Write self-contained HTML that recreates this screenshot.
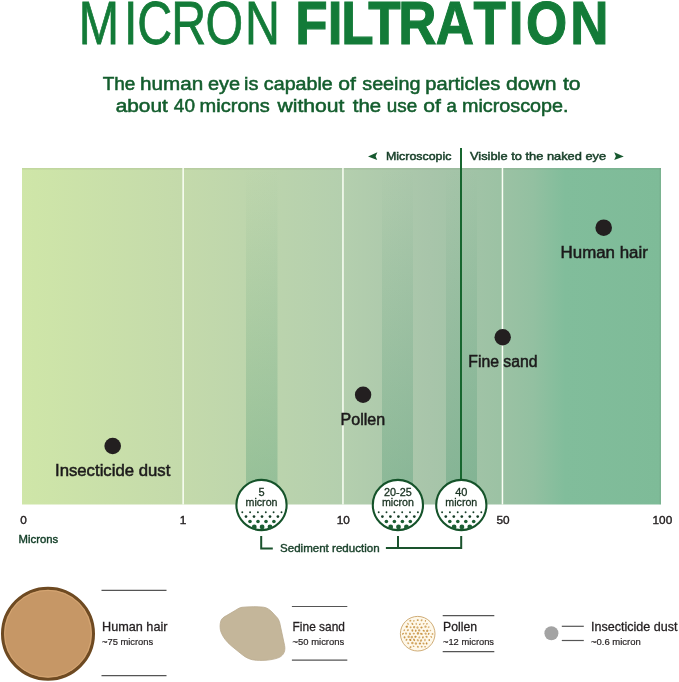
<!DOCTYPE html>
<html><head><meta charset="utf-8">
<style>
html,body{margin:0;padding:0;background:#fff;}
body{width:679px;height:682px;overflow:hidden;position:relative;}
svg{position:absolute;left:0;top:0;display:block;will-change:transform;}
text{font-family:"Liberation Sans",Arial,sans-serif;}
</style></head>
<body>
<svg width="679" height="682" viewBox="0 0 679 682">
<defs>
<linearGradient id="bg" x1="22" y1="0" x2="661" y2="0" gradientUnits="userSpaceOnUse">
<stop offset="0" stop-color="#cfe6a8"/>
<stop offset="0.2504" stop-color="#c4daab"/>
<stop offset="0.5008" stop-color="#b4cfae"/>
<stop offset="0.6385" stop-color="#a8c5aa"/>
<stop offset="0.7480" stop-color="#9cc2a4"/>
<stop offset="0.80" stop-color="#93c0a1"/>
<stop offset="0.85" stop-color="#81bd9b"/>
<stop offset="1" stop-color="#7ebb98"/>
</linearGradient>
<linearGradient id="band" x1="0" y1="168" x2="0" y2="505" gradientUnits="userSpaceOnUse">
<stop offset="0" stop-color="#3d9069" stop-opacity="0"/>
<stop offset="0.12" stop-color="#3d9069" stop-opacity="0.03"/>
<stop offset="1" stop-color="#3d9069" stop-opacity="0.32"/>
</linearGradient>

</defs>

<!-- Title -->
<text transform="scale(0.78,1)" x="100.97 158.82 176.07 219.65 263.59 314.20" y="44.2" font-size="62" font-weight="normal" fill="#137b38" stroke="#137b38" stroke-width="0.8">MICRON</text>
<text transform="scale(0.86,1)" x="343.45 381.04 396.82 428.32 463.19 506.76 550.53 591.68 611.71 663.06" y="43.9" font-size="61.6" font-weight="bold" fill="#137b38" stroke="#137b38" stroke-width="1.1">FILTRATION</text>

<!-- Subtitle -->
<g font-size="18.9" fill="#135d2d" stroke="#135d2d" stroke-width="0.55">
<text y="89.6" ><tspan x="102.67" textLength="32.67" lengthAdjust="spacingAndGlyphs">The</tspan> <tspan x="140.07" textLength="63.17" lengthAdjust="spacingAndGlyphs">human</tspan> <tspan x="207.95" textLength="32.13" lengthAdjust="spacingAndGlyphs">eye</tspan> <tspan x="244.07" textLength="14.35" lengthAdjust="spacingAndGlyphs">is</tspan> <tspan x="263.86" textLength="68.91" lengthAdjust="spacingAndGlyphs">capable</tspan> <tspan x="338.31" textLength="17.65" lengthAdjust="spacingAndGlyphs">of</tspan> <tspan x="362.25" textLength="58.22" lengthAdjust="spacingAndGlyphs">seeing</tspan> <tspan x="425.30" textLength="74.92" lengthAdjust="spacingAndGlyphs">particles</tspan> <tspan x="506.04" textLength="50.60" lengthAdjust="spacingAndGlyphs">down</tspan> <tspan x="563.01" textLength="17.65" lengthAdjust="spacingAndGlyphs">to</tspan></text>
<text y="112.2" ><tspan x="115.71" textLength="52.14" lengthAdjust="spacingAndGlyphs">about</tspan> <tspan x="173.87" textLength="21.07" lengthAdjust="spacingAndGlyphs">40</tspan> <tspan x="199.57" textLength="70.16" lengthAdjust="spacingAndGlyphs">microns</tspan> <tspan x="277.41" textLength="67.07" lengthAdjust="spacingAndGlyphs">without</tspan> <tspan x="352.89" textLength="28.31" lengthAdjust="spacingAndGlyphs">the</tspan> <tspan x="386.78" textLength="30.36" lengthAdjust="spacingAndGlyphs">use</tspan> <tspan x="423.16" textLength="17.65" lengthAdjust="spacingAndGlyphs">of</tspan> <tspan x="446.61" textLength="10.29" lengthAdjust="spacingAndGlyphs">a</tspan> <tspan x="461.99" textLength="106.62" lengthAdjust="spacingAndGlyphs">microscope.</tspan></text>
</g>

<!-- Chart -->
<rect x="22" y="168" width="639" height="336.5" fill="url(#bg)"/>
<rect x="22" y="168" width="639" height="1.6" fill="#5a6a50" fill-opacity="0.1"/>
<rect x="659.5" y="168" width="1.5" height="336.5" fill="#5a6a50" fill-opacity="0.1"/>
<rect x="246" y="168" width="31.5" height="336.5" fill="url(#band)"/>
<rect x="382" y="168" width="31" height="336.5" fill="url(#band)"/>
<rect x="446" y="168" width="31" height="336.5" fill="url(#band)"/>
<rect x="182.4" y="168" width="1.5" height="336.5" fill="#fbfff6"/>
<rect x="342.2" y="168" width="1.5" height="336.5" fill="#fbfff6"/>
<rect x="501.7" y="168" width="1.5" height="336.5" fill="#fbfff6"/>

<!-- microscopic line -->
<rect x="460" y="148" width="2" height="332" fill="#17662f"/>
<path d="M368 156.4 L377.4 152.3 L375.6 156.3 L377.2 160 Z" fill="#17592f"/>
<g font-size="11.8" fill="#173f28" stroke="#173f28" stroke-width="0.5">
<text x="386" y="160.2" textLength="65.4" lengthAdjust="spacingAndGlyphs">Microscopic</text>
<text x="470" y="160.2" textLength="136.2" lengthAdjust="spacingAndGlyphs">Visible to the naked eye</text>
</g>
<path d="M623.8 156.4 L614.2 152.2 L615.9 156.3 L614.2 160 Z" fill="#17592f"/>

<!-- data points -->
<g fill="#231f20">
<circle cx="112.7" cy="446" r="8.3"/>
<circle cx="363.1" cy="394.7" r="8.2"/>
<circle cx="502.7" cy="337.2" r="8.2"/>
<circle cx="603.7" cy="227.7" r="8.3"/>
</g>
<g font-size="15.8" fill="#1c1a1b" stroke="#1c1a1b" stroke-width="0.5">
<text x="55" y="476" textLength="115.3" lengthAdjust="spacingAndGlyphs">Insecticide dust</text>
<text x="340.6" y="424.9" textLength="44.6" lengthAdjust="spacingAndGlyphs">Pollen</text>
<text x="468.3" y="367.1" textLength="69.2" lengthAdjust="spacingAndGlyphs">Fine sand</text>
<text x="560.6" y="257.6" textLength="87.2" lengthAdjust="spacingAndGlyphs">Human hair</text>
</g>

<!-- axis labels -->
<g font-size="11.8" fill="#231f20" text-anchor="middle" stroke="#231f20" stroke-width="0.4">
<text x="23.6" y="523.8">0</text>
<text x="183" y="523.8">1</text>
<text x="343.2" y="523.8">10</text>
<text x="503" y="523.8">50</text>
<text x="662.4" y="523.8">100</text>
</g>
<text x="18.6" y="542.8" font-size="11.3" fill="#15402a" stroke="#15402a" stroke-width="0.4" textLength="39.6" lengthAdjust="spacingAndGlyphs">Microns</text>

<!-- micron circles -->
<g font-size="11" text-anchor="middle" fill="#17301f" stroke="#17301f" stroke-width="0.3">
<g transform="translate(261.5,505)">
<circle r="25.1" fill="#fff" stroke="#15532a" stroke-width="2.1"/>
<g stroke="none">
<g fill="#173f28">
<circle cx="-19.2" cy="7.2" r="0.95"/><circle cx="-11.4" cy="7.2" r="0.95"/><circle cx="-3.6" cy="7.2" r="0.95"/><circle cx="4.3" cy="7.2" r="0.95"/><circle cx="12.1" cy="7.2" r="0.95"/><circle cx="20" cy="7.2" r="0.95"/>
<circle cx="-15.5" cy="11.6" r="1.35"/><circle cx="-7.5" cy="11.6" r="1.35"/><circle cx="0.5" cy="11.6" r="1.35"/><circle cx="8.5" cy="11.6" r="1.35"/><circle cx="16.4" cy="11.6" r="1.35"/>
</g>
<g fill="#1b5e33">
<circle cx="-11.5" cy="16.5" r="1.8"/><circle cx="-3.5" cy="16.5" r="1.8"/><circle cx="4.5" cy="16.5" r="1.8"/><circle cx="12.4" cy="16.5" r="1.8"/>
<circle cx="-7.2" cy="22" r="2.4"/><circle cx="0.6" cy="22" r="2.4"/><circle cx="8.5" cy="22" r="2.4"/>
</g>
</g>
<text y="-9.5">5</text>
<text y="1" textLength="32" lengthAdjust="spacingAndGlyphs">micron</text>
</g>
<g transform="translate(397.9,505)">
<circle r="25.1" fill="#fff" stroke="#15532a" stroke-width="2.1"/>
<g stroke="none">
<g fill="#173f28">
<circle cx="-19.2" cy="7.2" r="0.95"/><circle cx="-11.4" cy="7.2" r="0.95"/><circle cx="-3.6" cy="7.2" r="0.95"/><circle cx="4.3" cy="7.2" r="0.95"/><circle cx="12.1" cy="7.2" r="0.95"/><circle cx="20" cy="7.2" r="0.95"/>
<circle cx="-15.5" cy="11.6" r="1.35"/><circle cx="-7.5" cy="11.6" r="1.35"/><circle cx="0.5" cy="11.6" r="1.35"/><circle cx="8.5" cy="11.6" r="1.35"/><circle cx="16.4" cy="11.6" r="1.35"/>
</g>
<g fill="#1b5e33">
<circle cx="-11.5" cy="16.5" r="1.8"/><circle cx="-3.5" cy="16.5" r="1.8"/><circle cx="4.5" cy="16.5" r="1.8"/><circle cx="12.4" cy="16.5" r="1.8"/>
<circle cx="-7.2" cy="22" r="2.4"/><circle cx="0.6" cy="22" r="2.4"/><circle cx="8.5" cy="22" r="2.4"/>
</g>
</g>
<text y="-9.5" textLength="27.7" lengthAdjust="spacingAndGlyphs">20-25</text>
<text y="1" textLength="32" lengthAdjust="spacingAndGlyphs">micron</text>
</g>
<g transform="translate(461.3,505)">
<circle r="25.1" fill="#fff" stroke="#15532a" stroke-width="2.1"/>
<g stroke="none">
<g fill="#173f28">
<circle cx="-19.2" cy="7.2" r="0.95"/><circle cx="-11.4" cy="7.2" r="0.95"/><circle cx="-3.6" cy="7.2" r="0.95"/><circle cx="4.3" cy="7.2" r="0.95"/><circle cx="12.1" cy="7.2" r="0.95"/><circle cx="20" cy="7.2" r="0.95"/>
<circle cx="-15.5" cy="11.6" r="1.35"/><circle cx="-7.5" cy="11.6" r="1.35"/><circle cx="0.5" cy="11.6" r="1.35"/><circle cx="8.5" cy="11.6" r="1.35"/><circle cx="16.4" cy="11.6" r="1.35"/>
</g>
<g fill="#1b5e33">
<circle cx="-11.5" cy="16.5" r="1.8"/><circle cx="-3.5" cy="16.5" r="1.8"/><circle cx="4.5" cy="16.5" r="1.8"/><circle cx="12.4" cy="16.5" r="1.8"/>
<circle cx="-7.2" cy="22" r="2.4"/><circle cx="0.6" cy="22" r="2.4"/><circle cx="8.5" cy="22" r="2.4"/>
</g>
</g>
<text y="-9.5">40</text>
<text y="1" textLength="32" lengthAdjust="spacingAndGlyphs">micron</text>
</g>
</g>

<!-- sediment bracket -->
<g stroke="#1a532d" stroke-width="2" fill="none">
<path d="M261.2 536 V548.4 H272.8"/>
<path d="M385.9 547.9 H461.2 V536"/>
<path d="M398 536 V547.9"/>
</g>
<text x="280" y="551.7" font-size="11" fill="#173f28" stroke="#173f28" stroke-width="0.4" textLength="99.6" lengthAdjust="spacingAndGlyphs">Sediment reduction</text>

<!-- Legend -->
<circle cx="48" cy="633.7" r="45.5" fill="#c69766" stroke="#6e4a22" stroke-width="3"/>
<circle cx="48" cy="633.7" r="43.3" fill="none" stroke="#d6a673" stroke-width="1"/>
<g stroke="#555" stroke-width="1.2">
<path d="M101.5 590.4 H166.5"/><path d="M101.5 675.7 H166.5"/>
<path d="M291.9 606.5 H347.3"/><path d="M291.9 660.2 H347.3"/>
<path d="M442.7 615.6 H494.3"/><path d="M442.7 651.6 H494.3"/>
<path d="M561.8 626.3 H583.8"/><path d="M561.8 640.5 H583.8"/>
</g>
<g fill="#231f20" stroke="#231f20">
<g font-size="13" stroke-width="0.3">
<text x="102" y="631.2" textLength="65.5" lengthAdjust="spacingAndGlyphs">Human hair</text>
<text x="292.6" y="631.2" textLength="52.3" lengthAdjust="spacingAndGlyphs">Fine sand</text>
<text x="443" y="630.6" textLength="34" lengthAdjust="spacingAndGlyphs">Pollen</text>
<text x="591" y="630.9" textLength="86.5" lengthAdjust="spacingAndGlyphs">Insecticide dust</text>
</g>
<g font-size="9.9" stroke-width="0.2">
<text x="102" y="644.5" textLength="51.2" lengthAdjust="spacingAndGlyphs">~75 microns</text>
<text x="292.6" y="644.9" textLength="51.6" lengthAdjust="spacingAndGlyphs">~50 microns</text>
<text x="443" y="645" textLength="51" lengthAdjust="spacingAndGlyphs">~12 microns</text>
<text x="591" y="645.2" textLength="49.8" lengthAdjust="spacingAndGlyphs">~0.6 micron</text>
</g>
</g>
<path d="M242 607.3 C250 606.5 258 606.5 263.5 607.2 C267 607.7 269.5 609.5 272 612 L277.5 618 C279 620 279.8 622.5 280.2 625 L284.6 645.5 C285.6 650.5 284 655 279.5 657.3 C274 659.8 265 660.8 256.5 660.3 C250.5 660 246 657.8 242 654.5 L231.5 646 C226.5 641.8 222.8 637 221 632 C219.8 628.5 219.7 624 221 620.5 C222 618.3 224 616.8 226.5 615.6 L236 610 C238 608.6 240 607.6 242 607.3 Z" fill="#c4b69a" stroke="#b9aa8e" stroke-width="0.8"/>
<circle cx="417.7" cy="633.7" r="17.3" fill="#fef8ea" stroke="#caa368" stroke-width="0.9"/>
<g fill="#c48c38">
<ellipse transform="translate(410.34,620.75) rotate(169)" rx="1.03" ry="0.87" fill-opacity="0.80"/>
<ellipse transform="translate(413.88,620.87) rotate(176)" rx="0.97" ry="0.70" fill-opacity="0.81"/>
<ellipse transform="translate(417.75,620.16) rotate(4)" rx="1.02" ry="0.85" fill-opacity="0.85"/>
<ellipse transform="translate(421.58,620.21) rotate(122)" rx="1.08" ry="0.85" fill-opacity="0.74"/>
<ellipse transform="translate(425.41,620.89) rotate(122)" rx="0.84" ry="0.52" fill-opacity="0.99"/>
<ellipse transform="translate(408.01,623.85) rotate(58)" rx="1.11" ry="0.71" fill-opacity="0.73"/>
<ellipse transform="translate(412.41,623.85) rotate(61)" rx="1.25" ry="0.83" fill-opacity="0.86"/>
<ellipse transform="translate(416.21,623.86) rotate(95)" rx="1.06" ry="0.69" fill-opacity="0.68"/>
<ellipse transform="translate(419.88,624.25) rotate(145)" rx="1.05" ry="0.75" fill-opacity="0.86"/>
<ellipse transform="translate(423.63,623.76) rotate(143)" rx="0.98" ry="0.71" fill-opacity="0.71"/>
<ellipse transform="translate(426.92,623.83) rotate(166)" rx="1.03" ry="0.78" fill-opacity="0.66"/>
<ellipse transform="translate(406.76,626.72) rotate(166)" rx="1.21" ry="1.07" fill-opacity="0.96"/>
<ellipse transform="translate(410.60,627.25) rotate(31)" rx="0.99" ry="0.89" fill-opacity="0.72"/>
<ellipse transform="translate(414.11,627.20) rotate(110)" rx="1.18" ry="1.15" fill-opacity="0.74"/>
<ellipse transform="translate(417.45,627.54) rotate(63)" rx="1.22" ry="1.11" fill-opacity="0.68"/>
<ellipse transform="translate(421.48,627.49) rotate(166)" rx="1.10" ry="1.01" fill-opacity="0.92"/>
<ellipse transform="translate(425.52,626.68) rotate(9)" rx="1.19" ry="1.12" fill-opacity="0.71"/>
<ellipse transform="translate(428.72,627.20) rotate(140)" rx="1.05" ry="0.83" fill-opacity="0.60"/>
<ellipse transform="translate(404.27,630.27) rotate(129)" rx="0.91" ry="0.75" fill-opacity="0.75"/>
<ellipse transform="translate(407.90,630.12) rotate(141)" rx="1.10" ry="0.93" fill-opacity="0.75"/>
<ellipse transform="translate(412.38,630.56) rotate(89)" rx="1.21" ry="0.90" fill-opacity="0.88"/>
<ellipse transform="translate(415.75,630.63) rotate(96)" rx="1.25" ry="0.87" fill-opacity="0.88"/>
<ellipse transform="translate(419.15,630.36) rotate(169)" rx="1.23" ry="1.17" fill-opacity="0.75"/>
<ellipse transform="translate(423.72,630.73) rotate(22)" rx="1.14" ry="0.89" fill-opacity="0.93"/>
<ellipse transform="translate(427.24,630.82) rotate(132)" rx="1.26" ry="1.09" fill-opacity="0.83"/>
<ellipse transform="translate(430.43,630.53) rotate(139)" rx="0.89" ry="0.59" fill-opacity="0.62"/>
<ellipse transform="translate(402.97,633.71) rotate(135)" rx="1.09" ry="0.70" fill-opacity="0.97"/>
<ellipse transform="translate(406.01,633.52) rotate(44)" rx="1.13" ry="1.06" fill-opacity="0.67"/>
<ellipse transform="translate(409.95,633.82) rotate(66)" rx="1.29" ry="0.98" fill-opacity="0.76"/>
<ellipse transform="translate(413.80,633.62) rotate(175)" rx="1.11" ry="0.89" fill-opacity="0.77"/>
<ellipse transform="translate(417.95,633.36) rotate(121)" rx="1.34" ry="1.21" fill-opacity="0.81"/>
<ellipse transform="translate(421.43,633.84) rotate(17)" rx="1.40" ry="0.92" fill-opacity="0.90"/>
<ellipse transform="translate(425.62,633.72) rotate(33)" rx="1.18" ry="1.05" fill-opacity="0.71"/>
<ellipse transform="translate(428.65,633.79) rotate(124)" rx="1.07" ry="0.74" fill-opacity="0.98"/>
<ellipse transform="translate(432.50,633.91) rotate(105)" rx="0.98" ry="0.92" fill-opacity="0.71"/>
<ellipse transform="translate(404.54,637.30) rotate(87)" rx="1.16" ry="0.96" fill-opacity="0.89"/>
<ellipse transform="translate(408.68,636.86) rotate(84)" rx="1.25" ry="1.23" fill-opacity="0.69"/>
<ellipse transform="translate(411.81,637.18) rotate(154)" rx="1.28" ry="1.26" fill-opacity="0.70"/>
<ellipse transform="translate(415.51,636.72) rotate(155)" rx="1.15" ry="1.01" fill-opacity="0.96"/>
<ellipse transform="translate(419.33,637.33) rotate(131)" rx="1.19" ry="0.92" fill-opacity="0.63"/>
<ellipse transform="translate(422.92,637.30) rotate(104)" rx="1.15" ry="0.86" fill-opacity="0.87"/>
<ellipse transform="translate(426.58,636.80) rotate(38)" rx="1.15" ry="0.91" fill-opacity="0.83"/>
<ellipse transform="translate(431.28,636.85) rotate(49)" rx="1.06" ry="0.68" fill-opacity="0.87"/>
<ellipse transform="translate(406.49,639.84) rotate(129)" rx="1.08" ry="0.80" fill-opacity="0.87"/>
<ellipse transform="translate(410.27,639.91) rotate(32)" rx="1.21" ry="1.03" fill-opacity="0.96"/>
<ellipse transform="translate(414.11,639.85) rotate(60)" rx="1.37" ry="0.90" fill-opacity="0.89"/>
<ellipse transform="translate(417.80,640.28) rotate(56)" rx="1.27" ry="1.00" fill-opacity="0.67"/>
<ellipse transform="translate(421.02,640.44) rotate(133)" rx="1.30" ry="1.06" fill-opacity="0.74"/>
<ellipse transform="translate(424.97,640.11) rotate(91)" rx="1.29" ry="0.80" fill-opacity="0.70"/>
<ellipse transform="translate(429.22,640.08) rotate(97)" rx="1.01" ry="0.77" fill-opacity="0.91"/>
<ellipse transform="translate(408.22,643.18) rotate(36)" rx="1.07" ry="0.88" fill-opacity="0.70"/>
<ellipse transform="translate(412.36,643.02) rotate(171)" rx="1.24" ry="1.19" fill-opacity="0.75"/>
<ellipse transform="translate(415.88,643.57) rotate(124)" rx="1.20" ry="1.19" fill-opacity="0.72"/>
<ellipse transform="translate(419.94,643.47) rotate(0)" rx="1.19" ry="1.06" fill-opacity="0.91"/>
<ellipse transform="translate(423.49,643.48) rotate(35)" rx="1.13" ry="0.88" fill-opacity="0.81"/>
<ellipse transform="translate(426.61,643.49) rotate(102)" rx="1.12" ry="0.87" fill-opacity="0.98"/>
<ellipse transform="translate(410.51,647.18) rotate(136)" rx="1.12" ry="0.87" fill-opacity="0.79"/>
<ellipse transform="translate(413.56,646.29) rotate(29)" rx="0.92" ry="0.62" fill-opacity="0.80"/>
<ellipse transform="translate(417.90,646.79) rotate(55)" rx="1.04" ry="0.90" fill-opacity="0.79"/>
<ellipse transform="translate(421.71,646.65) rotate(130)" rx="0.94" ry="0.90" fill-opacity="0.75"/>
<ellipse transform="translate(425.07,646.78) rotate(0)" rx="1.04" ry="0.72" fill-opacity="0.68"/>
</g>
<circle cx="551.4" cy="633.2" r="7" fill="#a3a3a3"/>
</svg>
</body></html>
